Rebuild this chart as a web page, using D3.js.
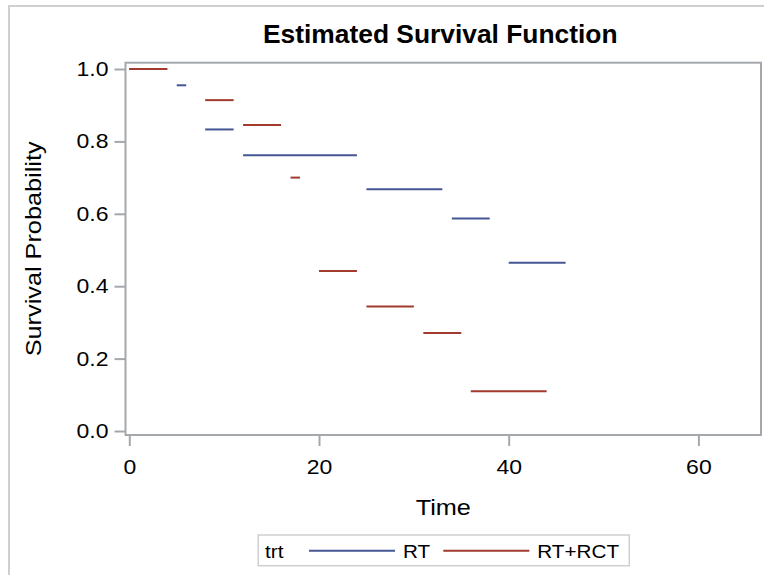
<!DOCTYPE html>
<html>
<head>
<meta charset="utf-8">
<script src="https://cdn.jsdelivr.net/npm/d3@7"></script>
<style>
  body { margin: 0; background: #fff; }
  svg text { font-family: "Liberation Sans", Arial, sans-serif; fill: #000; }
</style>
</head>
<body>
<svg id="chart" width="764" height="575"></svg>
<script>
// Kaplan-Meier step segments (start time, end time, survival)
var rtStart = [0, 5, 8, 12, 25, 34, 40];
var rtEnd   = [4, 6, 11, 24, 33, 38, 46];
var rtSurv  = [1.0, 0.955, 0.833, 0.762, 0.668, 0.587, 0.465];

var rctStart = [0, 8, 12, 17, 20, 25, 31, 36];
var rctEnd   = [4, 11, 16, 18, 24, 30, 35, 44];
var rctSurv  = [1.0, 0.914, 0.845, 0.700, 0.442, 0.344, 0.271, 0.110];

var xTicks = [0, 20, 40, 60];
var yTicks = [0, 0.2, 0.4, 0.6, 0.8, 1.0];
var seriesNames = ['RT', 'RT+RCT'];
var seriesColors = ['#445694', '#A23A2E'];

function segs(st, en, sv) {
  return st.map(function(d, i) { return {t0: d, t1: en[i], s: sv[i]}; });
}
var series = [segs(rtStart, rtEnd, rtSurv), segs(rctStart, rctEnd, rctSurv)];

var svg = d3.select('#chart');
var frame = {left: 125.5, right: 761, top: 62.7, bottom: 435};
var sx = 1.15; // SAS text renders a bit wider than Liberation Sans

// outer graph border
svg.append('rect')
  .attr('x', 9).attr('y', 6).attr('width', 800).attr('height', 600)
  .attr('fill', 'none').attr('stroke', '#cfcfcf').attr('stroke-width', 2);

var x = d3.scaleLinear().domain([-0.4, 66.6]).range([frame.left, frame.right]);
var y = d3.scaleLinear().domain([-0.011, 1.0174]).range([frame.bottom, frame.top]);

var axisColor = '#a4a8ac';

var gx = svg.append('g')
  .attr('transform', 'translate(0,' + frame.bottom + ')')
  .call(d3.axisBottom(x).tickValues(xTicks).tickSize(11).tickPadding(14).tickSizeOuter(0));
var gy = svg.append('g')
  .attr('transform', 'translate(' + frame.left + ',0)')
  .call(d3.axisLeft(y).tickValues(yTicks).tickFormat(d3.format('.1f')).tickSize(11).tickPadding(6).tickSizeOuter(0));

[gx, gy].forEach(function(g) {
  g.select('.domain').remove();
  g.selectAll('line').attr('stroke', axisColor).attr('stroke-width', 2);
  g.selectAll('text').attr('fill', '#000').style('font-size', '20px')
    .style('font-family', '"Liberation Sans", Arial, sans-serif');
});
// widen tick labels around their anchor
gx.selectAll('text').each(function() {
  var t = d3.select(this), ty = +t.attr('y');
  t.attr('y', 0).attr('transform', 'translate(0,' + ty + ') scale(' + sx + ',1)');
});
gy.selectAll('text').each(function() {
  var t = d3.select(this), tx = +t.attr('x');
  t.attr('x', 0).attr('transform', 'translate(' + tx + ',0) scale(' + sx + ',1)');
});

// plot frame
svg.append('rect')
  .attr('x', frame.left).attr('y', frame.top)
  .attr('width', frame.right - frame.left).attr('height', frame.bottom - frame.top)
  .attr('fill', 'none').attr('stroke', axisColor).attr('stroke-width', 2);

// survival segments
series.forEach(function(data, i) {
  svg.append('g').selectAll('line')
    .data(data)
    .enter().append('line')
    .attr('x1', function(d) { return x(d.t0); })
    .attr('x2', function(d) { return x(d.t1); })
    .attr('y1', function(d) { return y(d.s); })
    .attr('y2', function(d) { return y(d.s); })
    .attr('stroke', seriesColors[i])
    .attr('stroke-width', 2);
});

// titles
var cx = (frame.left + frame.right) / 2;
svg.append('text')
  .attr('transform', 'translate(' + (cx - 3) + ',43) scale(1.055,1)')
  .attr('text-anchor', 'middle')
  .style('font-size', '25px').style('font-weight', 'bold')
  .text('Estimated Survival Function');

svg.append('text')
  .attr('transform', 'translate(' + cx + ',515) scale(' + sx + ',1)')
  .attr('text-anchor', 'middle')
  .style('font-size', '22px')
  .text('Time');

svg.append('text')
  .attr('transform', 'translate(41,' + ((frame.top + frame.bottom) / 2) + ') rotate(-90) scale(' + sx + ',1)')
  .attr('text-anchor', 'middle')
  .style('font-size', '22px')
  .text('Survival Probability');

// legend
var leg = svg.append('g');
leg.append('rect')
  .attr('x', 258.3).attr('y', 535).attr('width', 371).attr('height', 30.7)
  .attr('fill', 'none').attr('stroke', '#cfcfcf').attr('stroke-width', 1.5);
leg.append('text')
  .attr('transform', 'translate(265,558) scale(' + sx + ',1)')
  .style('font-size', '18px').text('trt');
var legX = [309, 443.3];
seriesNames.forEach(function(name, i) {
  leg.append('line')
    .attr('x1', legX[i]).attr('x2', legX[i] + 86)
    .attr('y1', 550.7).attr('y2', 550.7)
    .attr('stroke', seriesColors[i]).attr('stroke-width', 2);
  leg.append('text')
    .attr('transform', 'translate(' + (legX[i] + 94) + ',558) scale(' + sx + ',1)')
    .style('font-size', '18px')
    .text(name);
});
</script>
</body>
</html>
